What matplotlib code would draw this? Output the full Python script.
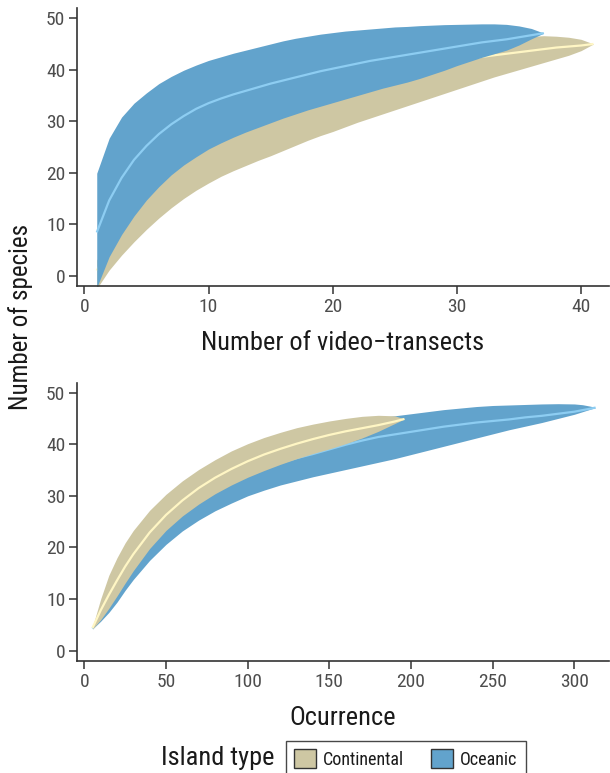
import matplotlib
matplotlib.use("Agg")
import matplotlib.pyplot as plt
from matplotlib.patches import Patch

plt.rcParams['font.family'] = ['Roboto Condensed', 'Liberation Sans', 'DejaVu Sans']

# ---------------- data: top panel (sample-based, video transects) ----------------
trans_oce_x = list(range(1, 38))
trans_oce_lo = [-2.3, 3.7, 8.0, 11.6, 14.7, 17.3, 19.6, 21.5, 23.1, 24.6, 25.8, 26.9, 27.9, 28.8, 29.7,
                30.6, 31.4, 32.2, 32.9, 33.6, 34.3, 35.0, 35.7, 36.4, 37.0, 37.6, 38.3, 39.1, 39.9,
                40.8, 41.6, 42.4, 43.1, 43.8, 44.8, 46.0, 47.1]
trans_oce_mean = [8.4, 14.6, 19.0, 22.5, 25.2, 27.5, 29.4, 31.0, 32.4, 33.5, 34.4, 35.2, 35.9, 36.6, 37.3,
                  37.9, 38.5, 39.1, 39.7, 40.2, 40.7, 41.2, 41.7, 42.1, 42.5, 42.9, 43.3, 43.7, 44.1,
                  44.5, 44.9, 45.3, 45.6, 45.9, 46.3, 46.7, 47.1]
trans_oce_hi = [19.9, 26.7, 30.8, 33.5, 35.5, 37.3, 38.7, 39.9, 40.9, 41.8, 42.5, 43.2, 43.8, 44.4, 45.0,
                45.6, 46.1, 46.5, 46.9, 47.2, 47.5, 47.7, 47.9, 48.1, 48.3, 48.4, 48.55, 48.65, 48.75,
                48.8, 48.85, 48.9, 48.9, 48.8, 48.5, 48.0, 47.1]

trans_con_x = list(range(1, 42))
trans_con_lo = [-2.5, 1.1, 4.0, 6.6, 9.0, 11.2, 13.2, 15.0, 16.6, 18.0, 19.3, 20.4, 21.4, 22.4, 23.3,
                24.3, 25.3, 26.3, 27.2, 28.0, 28.9, 29.8, 30.6, 31.4, 32.2, 33.0, 33.8, 34.6, 35.4,
                36.2, 37.0, 37.8, 38.6, 39.3, 40.0, 40.7, 41.4, 42.1, 42.8, 43.7, 45.0]
trans_con_mean = [1.0, 5.5, 9.2, 12.7, 15.7, 18.3, 20.6, 22.6, 24.4, 26.0, 27.4, 28.7, 29.9, 31.0, 32.0,
                  32.9, 33.8, 34.6, 35.4, 36.1, 36.8, 37.5, 38.1, 38.7, 39.3, 39.8, 40.3, 40.8, 41.3,
                  41.7, 42.1, 42.5, 42.8, 43.1, 43.4, 43.7, 44.0, 44.3, 44.5, 44.7, 45.0]
trans_con_hi = [3.0, 8.0, 12.0, 15.5, 18.5, 21.0, 23.2, 25.2, 27.0, 28.6, 30.0, 31.4, 32.6, 33.7, 34.7,
                35.6, 36.5, 37.3, 38.1, 38.8, 39.5, 40.2, 40.8, 41.4, 42.0, 42.6, 43.2, 43.7, 44.2,
                44.7, 45.1, 45.5, 45.9, 46.2, 46.4, 46.5, 46.6, 46.5, 46.3, 45.9, 45.0]

# ---------------- data: bottom panel (occurrence-based) ----------------
occ_con_x = [5, 10, 15, 20, 25, 30, 40, 50, 60, 70, 80, 90, 100, 110, 120, 130, 140, 150, 160, 170,
             180, 190, 196]
occ_con_lo = [4.2, 6.0, 8.2, 10.6, 13.1, 15.5, 19.8, 23.3, 26.1, 28.4, 30.4, 32.1, 33.6, 34.9, 36.1,
              37.2, 38.2, 39.1, 40.1, 41.2, 42.5, 44.0, 44.9]
occ_con_mean = [4.4, 7.8, 10.8, 13.6, 16.3, 18.7, 22.9, 26.3, 29.1, 31.5, 33.5, 35.2, 36.7, 38.0, 39.1,
                40.1, 41.0, 41.8, 42.5, 43.1, 43.7, 44.4, 44.9]
occ_con_hi = [4.6, 10.0, 14.6, 18.0, 20.9, 23.3, 27.2, 30.3, 32.9, 35.1, 37.0, 38.7, 40.1, 41.3, 42.3,
              43.2, 43.9, 44.5, 45.0, 45.4, 45.6, 45.5, 44.9]

occ_oce_x = [5, 10, 15, 20, 25, 30, 40, 50, 60, 70, 80, 90, 100, 110, 120, 130, 140, 150, 160, 170,
             180, 190, 200, 210, 220, 230, 240, 250, 260, 270, 280, 290, 300, 305, 310, 313]
occ_oce_lo = [4.2, 5.7, 7.4, 9.4, 11.7, 13.8, 17.5, 20.6, 23.2, 25.3, 27.1, 28.6, 30.0, 31.1, 32.1,
              32.9, 33.7, 34.4, 35.1, 35.8, 36.5, 37.2, 38.0, 38.8, 39.6, 40.4, 41.2, 42.0, 42.8,
              43.5, 44.2, 45.0, 45.8, 46.3, 46.8, 47.1]
occ_oce_mean = [4.3, 6.5, 8.7, 11.0, 13.5, 15.9, 20.3, 23.8, 26.6, 28.9, 30.8, 32.5, 34.0, 35.3, 36.4,
                37.3, 38.1, 39.0, 39.9, 40.7, 41.4, 41.9, 42.4, 42.9, 43.4, 43.8, 44.2, 44.5, 44.8,
                45.2, 45.5, 45.9, 46.3, 46.6, 46.9, 47.1]
occ_oce_hi = [4.5, 9.0, 13.0, 16.2, 19.0, 21.5, 25.6, 28.8, 31.4, 33.6, 35.5, 37.1, 38.5, 39.8, 40.9,
              41.9, 42.7, 43.4, 44.0, 44.6, 45.1, 45.5, 45.9, 46.3, 46.7, 47.0, 47.3, 47.5, 47.6,
              47.7, 47.8, 47.85, 47.8, 47.65, 47.35, 47.1]

groups = ["Continental", "Oceanic"]
fill_colors = {"Continental": "#CEC7A3", "Oceanic": "#62A3CC"}
line_colors = {"Continental": "#FFF6C4", "Oceanic": "#8DCDF2"}

x_ticks_top = [0, 10, 20, 30, 40]
x_ticks_bot = [0, 50, 100, 150, 200, 250, 300]
y_ticks = [0, 10, 20, 30, 40, 50]

W, H = 610, 773
fig = plt.figure(figsize=(W / 100, H / 100), dpi=100)

ax1 = fig.add_axes([77 / W, 1 - 285.7 / H, (609 - 77) / W, (285.7 - 8) / H])
ax2 = fig.add_axes([77 / W, 1 - 660.7 / H, (609 - 77) / W, (660.7 - 383.3) / H])


def band(ax, x, lo, mean, hi, grp):
    ax.fill_between(x, lo, hi, color=fill_colors[grp], lw=0, zorder=2)
    ax.plot(x, mean, color=line_colors[grp], lw=1.6, zorder=2, solid_capstyle='butt')


band(ax1, trans_con_x, trans_con_lo, trans_con_mean, trans_con_hi, "Continental")
band(ax1, trans_oce_x, trans_oce_lo, trans_oce_mean, trans_oce_hi, "Oceanic")
band(ax2, occ_oce_x, occ_oce_lo, occ_oce_mean, occ_oce_hi, "Oceanic")
band(ax2, occ_con_x, occ_con_lo, occ_con_mean, occ_con_hi, "Continental")

ax1.set_xlim(-0.59, 42.25)
ax1.set_ylim(-1.94, 51.98)
ax2.set_xlim(-4.47, 321.2)
ax2.set_ylim(-1.94, 51.8)
ax1.set_xticks(x_ticks_top)
ax2.set_xticks(x_ticks_bot)

for ax in (ax1, ax2):
    ax.set_yticks(y_ticks)
    for s in ("top", "right"):
        ax.spines[s].set_visible(False)
    for s in ("left", "bottom"):
        ax.spines[s].set_color("#333333")
        ax.spines[s].set_linewidth(1.2)
    ax.tick_params(axis='both', length=5.5, width=1.1, color="#333333",
                   labelcolor="#4D4D4D", labelsize=14, pad=3)

ax1.set_xlabel("Number of video\u2212transects", fontsize=19, color="#1A1A1A", labelpad=11)
ax2.set_xlabel("Ocurrence", fontsize=19, color="#1A1A1A", labelpad=11)

fig.text(21 / W, 1 - 317 / H, "Number of species", rotation=90, fontsize=18,
         color="#1A1A1A", ha="center", va="center")

# legend
handles = [Patch(facecolor=fill_colors[g], edgecolor="#333333", linewidth=1.0) for g in groups]
fig.text(218 / W, 1 - 758 / H, "Island type", fontsize=19, color="#1A1A1A",
         ha="center", va="center")
leg = fig.legend(handles, groups, loc="upper left", bbox_to_anchor=(286 / W, 1 - 741 / H),
                 ncol=2, frameon=True, fontsize=13, handlelength=1.2, handleheight=1.25,
                 handletextpad=0.4, columnspacing=1.5, borderpad=0.45, borderaxespad=0,
                 fancybox=False)
leg.get_frame().set_edgecolor("#1A1A1A")
leg.get_frame().set_linewidth(1.0)
for t in leg.get_texts():
    t.set_color("#1A1A1A")

fig.savefig("out.png", dpi=100)
